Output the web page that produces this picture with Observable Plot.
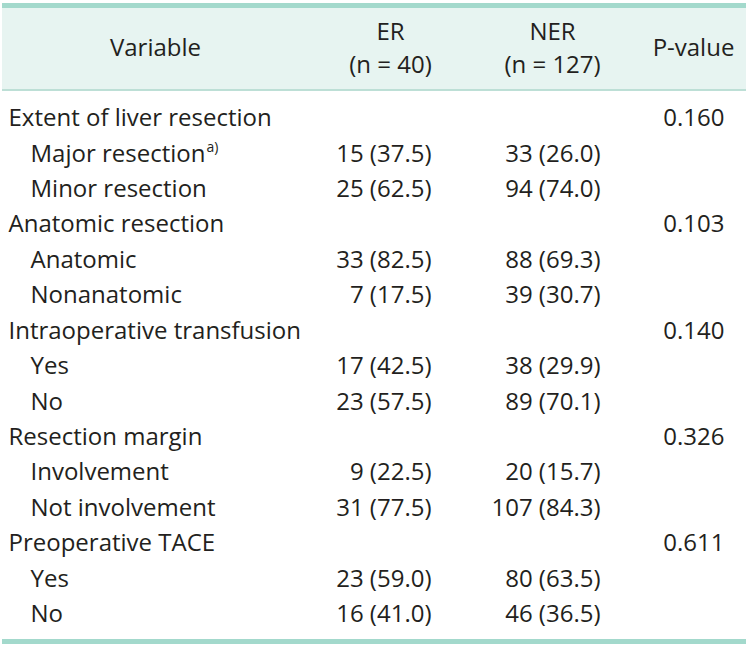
<!DOCTYPE html>
<html>
<head>
<meta charset="utf-8">
<script src="https://cdn.jsdelivr.net/npm/d3@7"></script>
<script src="https://cdn.jsdelivr.net/npm/@observablehq/plot@0.6"></script>
<style>
  html, body { margin: 0; padding: 0; background: white; }
  #wrap {
    position: relative; width: 751px; height: 647px;
    background:
      linear-gradient(to bottom,
        transparent 0 3px, #a3d9cc 3px 8px, #e7f4f1 8px 89px, #bddfd6 89px 91px,
        transparent 91px 639px, #a3d9cc 639px 644px, transparent 644px) no-repeat 2px 0 / 744px 100%;
  }
  #wrap svg { position: absolute; left: 0; top: 0; }
</style>
</head>
<body>
<div id="wrap"></div>
<script>
// ---- data ----
const labels = ["Extent of liver resection","Major resection","Minor resection","Anatomic resection","Anatomic","Nonanatomic","Intraoperative transfusion","Yes","No","Resection margin","Involvement","Not involvement","Preoperative TACE","Yes","No"];
const levels = [0,1,1,0,1,1,0,1,1,0,1,1,0,1,1];
const erCount = [null,15,25,null,33,7,null,17,23,null,9,31,null,23,16];
const erPct   = [null,37.5,62.5,null,82.5,17.5,null,42.5,57.5,null,22.5,77.5,null,59.0,41.0];
const nerCount = [null,33,94,null,88,39,null,38,89,null,20,107,null,80,46];
const nerPct   = [null,26.0,74.0,null,69.3,30.7,null,29.9,70.1,null,15.7,84.3,null,63.5,36.5];
const pValues  = ["0.160",null,null,"0.103",null,null,"0.140",null,null,"0.326",null,null,"0.611",null,null];
const headerKeys  = ["var", "er", "ner", "p"];
const headerTexts = ["Variable", "ER\n(n = 40)", "NER\n(n = 127)", "P-value"];
const footnoteRow = 1, footnoteMark = "a)";

// ---- layout (not data) ----
const colCenter = {var: 155, er: 390, ner: 552, p: 693};
const anchors = {label0: 8, label1: 30, er: 431, ner: 600, p: 724};
const fontPx = 24;

const rows = labels.map((label, i) => ({
  i, label, level: levels[i],
  er: erCount[i] == null ? "" : `${erCount[i]} (${erPct[i].toFixed(1)})`,
  ner: nerCount[i] == null ? "" : `${nerCount[i]} (${nerPct[i].toFixed(1)})`,
  p: pValues[i] ?? ""
}));
const headers = headerKeys.map((key, j) => ({key, text: headerTexts[j]}));

const font = "'Open Sans', sans-serif";
const fill = "#231f20";

const plot = Plot.plot({
  width: 751, height: 647,
  margin: 0,
  style: {background: "transparent", fontFamily: font, fontSize: fontPx + "px", color: fill, overflow: "visible"},
  y: {type: "point", domain: d3.range(rows.length), range: [118, 614], padding: 0, round: false, axis: null},
  marks: [
    ...headers.map(h => Plot.text([h], {
      text: "text",
      frameAnchor: "top-left",
      dx: colCenter[h.key],
      dy: 45,
      textAnchor: "middle",
      lineAnchor: "middle",
      lineHeight: 33 / fontPx,
      fill
    })),
    Plot.text(rows, {y: "i", text: "label", frameAnchor: "left", textAnchor: "start",
      dx: anchors.label0, filter: d => d.level === 0, fill}),
    Plot.text(rows, {y: "i", text: "label", frameAnchor: "left", textAnchor: "start",
      dx: anchors.label1, filter: d => d.level === 1, fill}),
    Plot.text(rows, {y: "i", text: "er", frameAnchor: "left", textAnchor: "end", dx: anchors.er, fill}),
    Plot.text(rows, {y: "i", text: "ner", frameAnchor: "left", textAnchor: "end", dx: anchors.ner, fill}),
    Plot.text(rows, {y: "i", text: "p", frameAnchor: "left", textAnchor: "end", dx: anchors.p, fill})
  ]
});
document.getElementById("wrap").appendChild(plot);

// superscript footnote mark after the labelled row
d3.select(plot).selectAll("text").filter(function() {
  return this.textContent === labels[footnoteRow];
}).append("tspan")
  .attr("font-size", 14)
  .attr("dy", "-0.7em")
  .attr("dx", 1)
  .text(footnoteMark);
</script>
</body>
</html>
